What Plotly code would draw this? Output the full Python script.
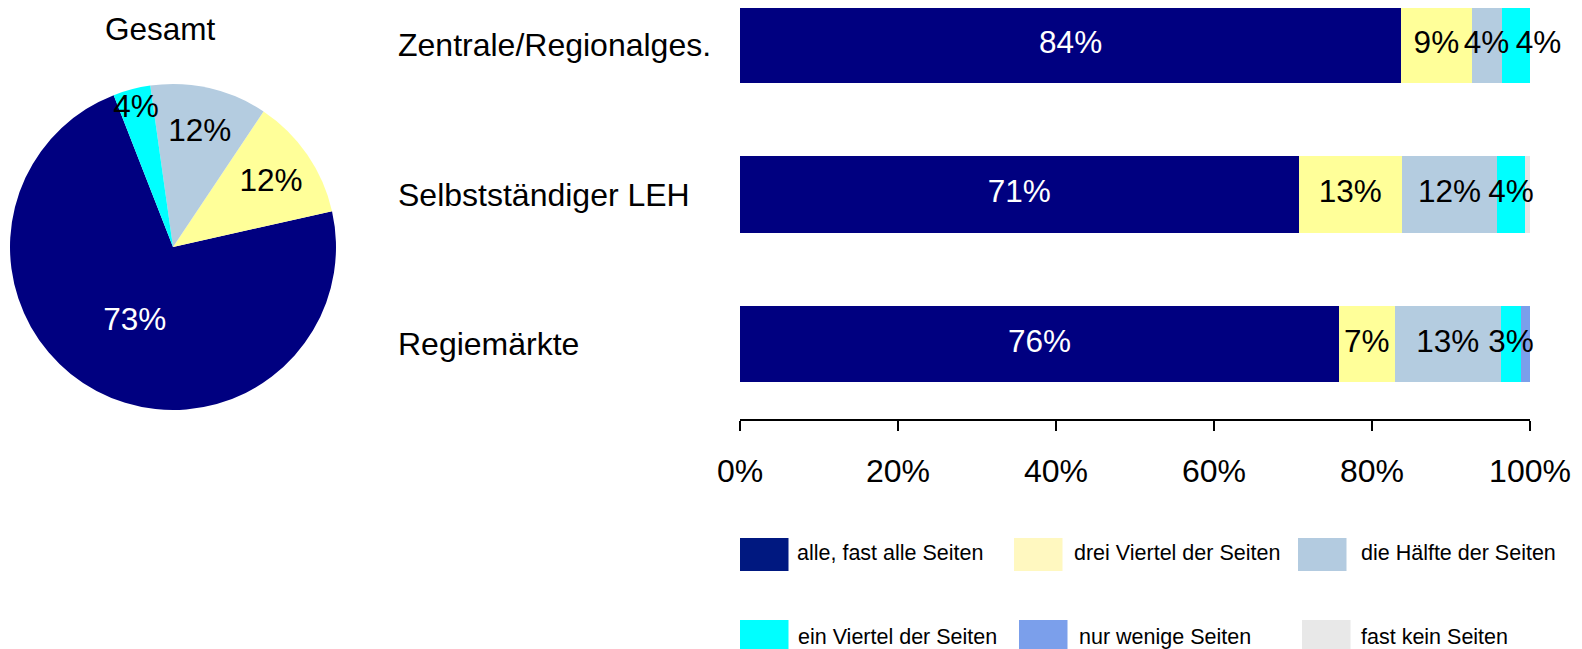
import plotly.graph_objects as go

# ---------------- data ----------------
categories = ["Zentrale/Regionalges.", "Selbstständiger LEH", "Regiemärkte"]
series_names = ["alle, fast alle Seiten", "drei Viertel der Seiten", "die Hälfte der Seiten",
                "ein Viertel der Seiten", "nur wenige Seiten", "fast kein Seiten"]
alle = [83.7, 70.7, 75.8]
drei_viertel = [8.9, 13.1, 7.1]
haelfte = [3.8, 12.0, 13.4]
ein_viertel = [3.6, 3.6, 2.6]
nur_wenige = [0.0, 0.0, 1.1]
fast_kein = [0.0, 0.6, 0.0]

pie_labels = series_names[:4]
pie_values = [72.6, 12.1, 11.6, 3.7]

tick_vals = [0, 20, 40, 60, 80, 100]
tick_text = ["0%", "20%", "40%", "60%", "80%", "100%"]

# ---------------- style / geometry ----------------
W, H = 1582, 649
OFF = 8  # page body margin


def px(p):
    return (p - OFF) / W


def py(p):
    return 1 - (p - OFF) / H


FONT = "Arial, Liberation Sans, sans-serif"
bar_colors = ["#000080", "#FFFF99", "#B4CCE0", "#00FFFF", "#7B9FEB", "#E6E6E6"]
legend_colors = ["#001880", "#FFF8C0", "#B3CBE0", "#00FFFF", "#7B9FEB", "#E8E8E8"]
text_colors = ["white", "black", "black", "black", "black", "black"]
# label placement per series (the crowded label at the bar end is nudged right)
text_positions = [["middle center"] * 3, ["middle center"] * 3, ["middle center"] * 3,
                  ["middle right", "middle center", "middle center"],
                  ["middle center"] * 3, ["middle center"] * 3]

series = [alle, drei_viertel, haelfte, ein_viertel, nur_wenige, fast_kein]

fig = go.Figure()

# stacked bars (no text)
for name, vals, col in zip(series_names, series, bar_colors):
    fig.add_trace(go.Bar(
        y=categories, x=vals, name=name, orientation="h",
        marker=dict(color=col, line=dict(width=0)),
        width=0.51, showlegend=False, hoverinfo="skip",
    ))

# value labels drawn on top of all segments, centred in each segment
base = [0.0] * len(categories)
for name, vals, tcol, tpos in zip(series_names, series, text_colors, text_positions):
    mids = [b + v / 2 for b, v in zip(base, vals)]
    fig.add_trace(go.Scatter(
        x=mids, y=categories, mode="text",
        text=[f"{v:.0f}%" if v >= 2 else "" for v in vals],
        textposition=tpos, cliponaxis=False,
        textfont=dict(family=FONT, size=31.5, color=tcol),
        showlegend=False, hoverinfo="skip",
    ))
    base = [b + v for b, v in zip(base, vals)]

fig.add_trace(go.Pie(
    labels=pie_labels, values=pie_values, sort=False,
    direction="counterclockwise", rotation=77.3,
    marker=dict(colors=bar_colors[:4], line=dict(width=0)),
    texttemplate="%{percent:.0%}", textposition="inside",
    insidetextorientation="horizontal",
    textfont=dict(family=FONT, size=31.5, color=["white", "black", "black", "black"]),
    domain=dict(x=[px(10), px(336)], y=[py(410), py(84)]),
    showlegend=False, hoverinfo="skip",
))

annotations = [dict(text="Gesamt", x=px(160), y=py(29), xref="paper", yref="paper",
                    xanchor="center", yanchor="middle",
                    showarrow=False, font=dict(family=FONT, size=31.5, color="black"))]
for c in categories:
    annotations.append(dict(text=c, x=px(396), y=c, xref="paper", yref="y", xanchor="left",
                            yanchor="middle",
                            showarrow=False, font=dict(family=FONT, size=32, color="black")))

# custom legend (two rows of three)
leg_swatch_x = [740, 1014, 1298, 740, 1019, 1302]
leg_text_x = [795, 1072, 1359, 796, 1077, 1359]
leg_y = [(538, 571), (538, 571), (538, 571), (620, 653), (620, 653), (620, 653)]
leg_text_y = [553, 553, 553, 637, 637, 637]
shapes = []
for name, col, sx, tx, (y0, y1), ty in zip(series_names, legend_colors, leg_swatch_x,
                                           leg_text_x, leg_y, leg_text_y):
    shapes.append(dict(type="rect", xref="paper", yref="paper",
                       x0=px(sx), x1=px(sx + 48.5), y0=py(y1), y1=py(y0),
                       fillcolor=col, line=dict(width=0)))
    annotations.append(dict(text=name, x=px(tx), y=py(ty), xref="paper", yref="paper",
                            xanchor="left", yanchor="middle", showarrow=False,
                            font=dict(family=FONT, size=21.5, color="black")))

fig.update_layout(
    width=W, height=H, barmode="stack",
    margin=dict(l=0, r=0, t=0, b=0, autoexpand=False),
    paper_bgcolor="white", plot_bgcolor="white",
    font=dict(family=FONT, color="black"),
    showlegend=False,
    uniformtext=dict(minsize=31.5, mode="show"),
    xaxis=dict(domain=[px(740), px(1530)], range=[0, 100], tickvals=tick_vals, ticktext=tick_text,
               showline=True, linecolor="black", linewidth=1.5, ticks="outside", ticklen=10,
               tickwidth=1.5, tickcolor="black", showgrid=False, zeroline=False,
               tickfont=dict(family=FONT, size=32, color="black"), ticklabelstandoff=13,
               automargin=False, fixedrange=True),
    yaxis=dict(domain=[py(419), 1], range=[2.5, -0.301 + OFF / 149.5], type="category",
               categoryorder="array", categoryarray=categories,
               showticklabels=False, showgrid=False, zeroline=False, showline=False,
               automargin=False, fixedrange=True),
    annotations=annotations, shapes=shapes,
)

fig.write_html("out.html")
